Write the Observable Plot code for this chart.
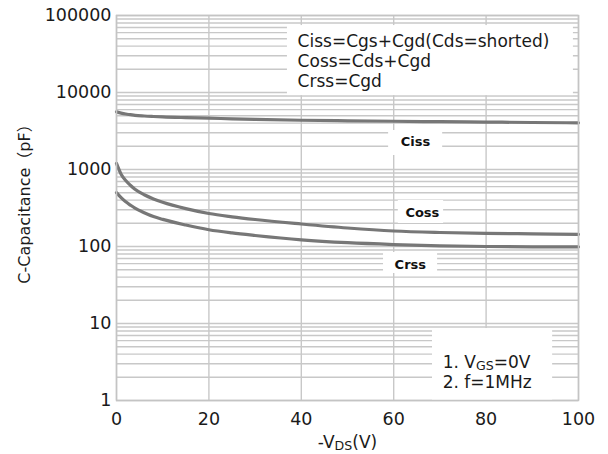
<!DOCTYPE html>
<html><head><meta charset="utf-8">
<script src="https://cdn.jsdelivr.net/npm/d3@7"></script>
<script src="https://cdn.jsdelivr.net/npm/@observablehq/plot@0.6"></script>
<style>
html,body{margin:0;padding:0;background:#fff;overflow:hidden;}
#chart svg{display:block;}
</style></head><body><div id="chart"></div>
<script>
// ---- data ----
const vds  = [0, 1, 2, 3, 4, 6, 8, 10, 15, 20, 25, 30, 40, 50, 60, 70, 80, 90, 100];
const ciss = [5600, 5400, 5250, 5150, 5050, 4950, 4880, 4820, 4720, 4640, 4550, 4470, 4360, 4290, 4230, 4180, 4130, 4080, 4040];
const coss = [1200, 870, 720, 625, 555, 470, 415, 375, 310, 268, 243, 224, 196, 174, 159, 152, 148, 146, 144];
const crss = [500, 430, 380, 345, 315, 275, 245, 225, 190, 165, 150, 139, 122, 112, 106, 102, 100, 99, 99];
const seriesNames = ["Ciss", "Coss", "Crss"];
const xTicks = [0, 20, 40, 60, 80, 100];
const yTicks = [1, 10, 100, 1000, 10000, 100000];
const legendLines = ["Ciss=Cgs+Cgd(Cds=shorted)", "Coss=Cds+Cgd", "Crss=Cgd"];
const noteLines = ["1. V_GS=0V", "2. f=1MHz"];
const xLabel = "-V_DS(V)";
const yLabel = "C-Capacitance（pF）";

// ---- annotation anchors (data units) ----
const curveLabelX = [64.7, 66.2, 63.6];
const curveLabelY = [2311, 276, 58.4];
const boxes = [
  {x1: 37.0, x2: 98.9, y1: 9120, y2: 74000},   // legend
  {x1: 58.9, x2: 70.6, y1: 1520, y2: 3210},    // Ciss label
  {x1: 61.0, x2: 70.8, y1: 199, y2: 396},      // Coss label
  {x1: 57.8, x2: 69.5, y1: 44.6, y2: 83.6},    // Crss label
  {x1: 68.4, x2: 94.4, y1: 1, y2: 8.6}         // note
];
const legendAnchor = {x: 39.2, y: 25580};
const noteX = 70.6;
const noteY = [3.115, 1.713];

// ---- derived tables ----
const rows = vds.flatMap((v, i) => [
  {x: v, y: ciss[i], s: seriesNames[0]},
  {x: v, y: coss[i], s: seriesNames[1]},
  {x: v, y: crss[i], s: seriesNames[2]}
]);
const minorY = [];
for (const d of [1, 10, 100, 1000, 10000]) for (let k = 2; k <= 9; k++) minorY.push(d * k);
const curveLabels = seriesNames.map((s, i) => ({s, x: curveLabelX[i], y: curveLabelY[i]}));
const notes = noteLines.map((t, i) => ({t, x: noteX, y: noteY[i]}));

const font = "'DejaVu Sans', 'Noto Sans CJK SC', sans-serif";
const grid = "#c8c8c8";

const chart = Plot.plot({
  width: 608, height: 454,
  marginLeft: 116, marginRight: 30, marginTop: 15, marginBottom: 54,
  style: {fontFamily: font, fontSize: "17.5px", color: "#1a1a1a", background: "#fff"},
  x: {domain: [0, 100]},
  y: {type: "log", domain: [1, 100000]},
  marks: [
    Plot.ruleY(minorY, {stroke: grid, strokeWidth: 1.4}),
    Plot.ruleY(yTicks, {stroke: grid, strokeWidth: 1.4}),
    Plot.ruleX(xTicks, {stroke: grid, strokeWidth: 1.4}),
    Plot.rect(boxes, {x1: "x1", x2: "x2", y1: "y1", y2: "y2", fill: "white"}),
    Plot.line(rows, {x: "x", y: "y", z: "s", stroke: "#777", strokeWidth: 3.2, curve: "monotone-x"}),
    Plot.frame({stroke: "#c4c4c4", strokeWidth: 1.5}),
    Plot.axisX({ticks: xTicks, tickSize: 0, tickPadding: 12, label: null, tickFormat: d => String(d)}),
    Plot.axisY({ticks: yTicks, tickSize: 0, tickPadding: 5, label: null, tickFormat: d => String(d)}),
    Plot.text([legendLines.join("\n")], {x: () => legendAnchor.x, y: () => legendAnchor.y, text: d => d,
      textAnchor: "start", lineHeight: 1.176, fontSize: 17, fill: "#1a1a1a"}),
    Plot.text(curveLabels, {x: "x", y: "y", text: "s", fontWeight: "bold", fontSize: 13, fill: "#111", ariaLabel: "curve-label"}),
    Plot.text(notes, {x: "x", y: "y", text: "t", textAnchor: "start", fontSize: 17, fill: "#1a1a1a"}),
    Plot.text([xLabel], {frameAnchor: "bottom", text: d => d, textAnchor: "middle", lineAnchor: "middle", dy: 41.6, fontSize: 17, fill: "#1a1a1a"}),
    Plot.text([yLabel], {frameAnchor: "left", text: d => d, textAnchor: "middle", lineAnchor: "middle", rotate: -90, dx: -92, dy: -8, fontSize: 16, fill: "#1a1a1a"})
  ]
});

function applySubscripts(root) {
  root.querySelectorAll("text, tspan").forEach(el => {
    if (el.children.length) return;
    const s = el.textContent;
    if (!s.includes("_")) return;
    el.textContent = "";
    const parts = s.split(/_([A-Z]+)/);
    parts.forEach((p, i) => {
      if (!p) return;
      const t = document.createElementNS("http://www.w3.org/2000/svg", "tspan");
      t.textContent = p;
      if (i % 2 === 1) { t.setAttribute("font-size", "0.74em"); t.setAttribute("dy", "2"); }
      else if (i > 0) { t.setAttribute("dy", "-2"); }
      el.appendChild(t);
    });
  });
}
applySubscripts(chart);
chart.querySelectorAll('g[aria-label="curve-label"] text').forEach(t => t.setAttribute("letter-spacing", "1.5"));
document.getElementById("chart").appendChild(chart);
</script>
</body></html>
